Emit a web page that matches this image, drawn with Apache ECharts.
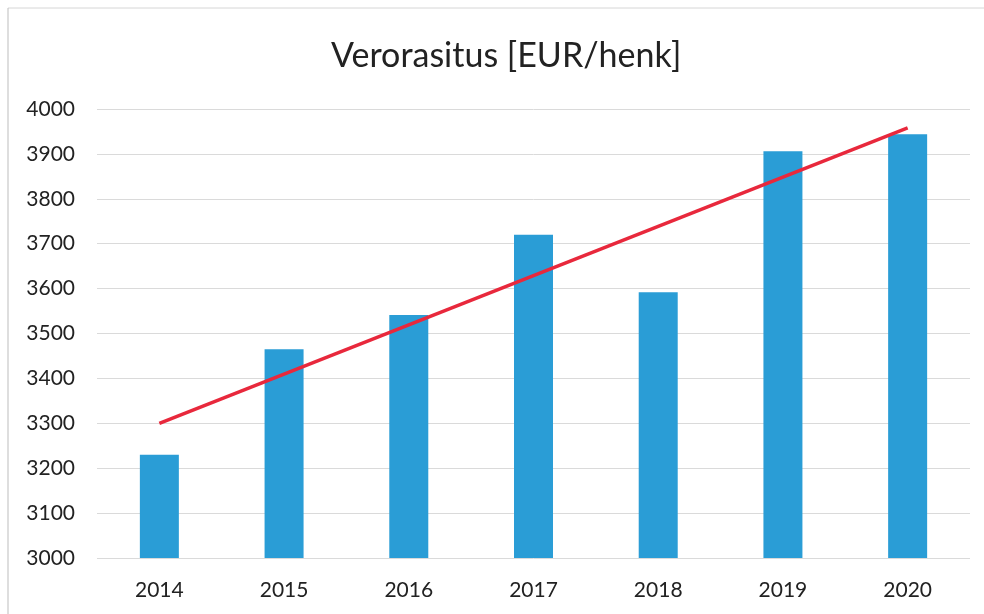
<!DOCTYPE html>
<html>
<head>
<meta charset="utf-8">
<script src="https://cdn.jsdelivr.net/npm/echarts@6/dist/echarts.min.js"></script>
<style>
  html, body { margin: 0; padding: 0; background: #fff; }
  #main { width: 984px; height: 614px; }
</style>
</head>
<body>
<div id="main"></div>
<script>
// vuodet
var years = ['2014', '2015', '2016', '2017', '2018', '2019', '2020'];
// verorasitus EUR/henk
var values = [3230, 3465, 3541, 3720, 3592, 3906, 3944];
// trendiviiva: vain päätepisteet
var trend = [3300, null, null, null, null, null, 3958];

var chart = echarts.init(document.getElementById('main'));

var option = {
  backgroundColor: '#ffffff',
  animation: false,
  textStyle: { fontFamily: 'Lato' },
  title: {
    text: 'Verorasitus [EUR/henk]',
    left: 326,
    top: 34,
    textStyle: {
      fontFamily: 'Lato',
      fontSize: 34,
      fontWeight: 'normal',
      color: '#222'
    }
  },
  graphic: [
    { type: 'line', shape: { x1: 8, y1: 8, x2: 984, y2: 8 }, style: { stroke: '#d6d6d6', lineWidth: 1 } },
    { type: 'line', shape: { x1: 8, y1: 8, x2: 8, y2: 614 }, style: { stroke: '#bdbdbd', lineWidth: 1 } }
  ],
  grid: {
    left: 97,
    right: 14,
    top: 109,
    bottom: 56
  },
  xAxis: {
    type: 'category',
    data: years,
    axisLine: { show: false },
    axisTick: { show: false },
    axisLabel: {
      color: '#222',
      fontSize: 21,
      margin: 22
    }
  },
  yAxis: {
    type: 'value',
    min: 3000,
    max: 4000,
    interval: 100,
    axisLine: { show: false },
    axisTick: { show: false },
    axisLabel: {
      color: '#222',
      fontSize: 21,
      margin: 22,
      formatter: function (v) { return String(v); }
    },
    splitLine: {
      lineStyle: { color: '#dadada', width: 1 }
    }
  },
  series: [
    {
      name: 'Verorasitus',
      type: 'bar',
      data: values,
      barWidth: 39,
      itemStyle: { color: '#2a9dd6' }
    },
    {
      name: 'Trendi',
      type: 'line',
      data: trend,
      connectNulls: true,
      symbol: 'none',
      lineStyle: { color: '#e8283c', width: 3.5 },
      z: 5
    }
  ]
};

chart.setOption(option);
</script>
</body>
</html>
